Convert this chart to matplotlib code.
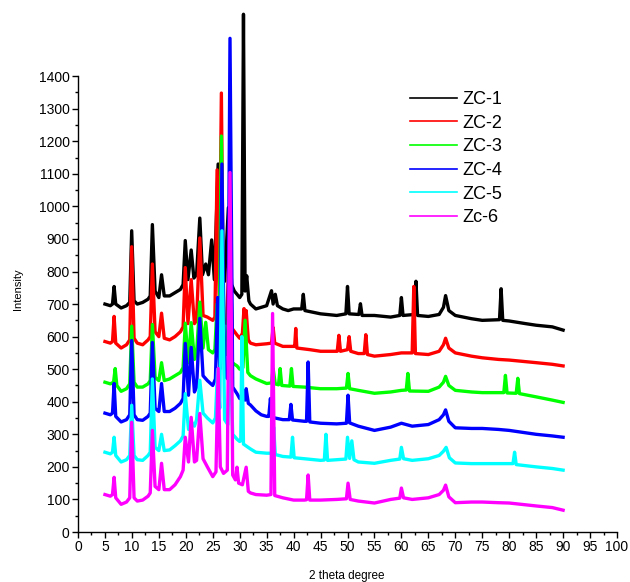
import matplotlib
matplotlib.use("Agg")
import matplotlib.pyplot as plt
from matplotlib.ticker import MultipleLocator

plt.rcParams['font.family'] = ['Liberation Sans', 'DejaVu Sans']

labels = ["ZC-1", "ZC-2", "ZC-3", "ZC-4", "ZC-5", "Zc-6"]
colors = ["#000000", "#ff0000", "#00ff00", "#0000ff", "#00ffff", "#ff00ff"]

zc1 = [(5,700),(6,695),(6.4,700),(6.7,754),(7.0,700),(8,688),(9,695),(9.6,705),(9.96,925),(10.4,710),
       (11,700),(12,705),(13,715),(13.4,725),(13.8,944),(14.3,740),(15,720),(15.5,790),(16,725),(17,725),
       (18,735),(19,745),(19.5,760),(19.9,895),(20.4,775),(21.0,866),(21.5,780),(22,790),(22.6,964),(23.1,790),
       (23.7,823),(24.2,790),(24.8,897),(25.3,775),(26.0,1130),(26.6,780),(27.2,770),(27.9,996),(28.5,760),(29,740),
       (30,720),(30.4,730),(30.7,1590),(31.0,740),(31.3,787),(31.7,710),(32,700),(33,685),(34,690),(35,695),
       (35.9,741),(36.2,700),(36.6,730),(37.0,695),(38,685),(39,680),(40,685),(41.5,685),(41.8,730),(42.1,680),
       (45,670),(48,665),(49.7,670),(50.0,754),(50.3,670),(52.1,668),(52.4,701),(52.7,665),(55,665),(58,660),
       (59.7,665),(60.0,720),(60.3,665),(62.4,668),(62.7,770),(63.0,665),(65,662),(67,668),(67.8,690),(68.2,726),
       (68.8,680),(70,665),(73,655),(75,650),(78.2,652),(78.5,747),(78.8,650),(80,648),(83,640),(85,635),
       (88,630),(90,620)]

zc2 = [(5,585),(6,580),(6.4,585),(6.7,662),(7.0,580),(8,565),(9,575),(9.6,590),(9.96,876),(10.4,595),
       (11,580),(12,575),(13,590),(13.4,600),(13.8,823),(14.3,615),(15,600),(15.5,672),(16,595),(17,590),
       (18,600),(19,615),(19.5,630),(19.9,812),(20.4,640),(21.0,775),(21.6,640),(22,650),(22.6,903),(23.2,665),
       (24,660),(25,650),(25.4,660),(25.8,1112),(26.2,700),(26.6,1348),(27.0,650),(27.6,640),(28.1,903),(28.6,625),
       (29.5,605),(30,595),(30.5,610),(30.8,686),(31.0,620),(31.2,680),(31.6,590),(32,580),(33,575),(35,578),
       (35.9,580),(36.2,628),(36.5,580),(38,570),(40,570),(40.2,570),(40.4,625),(40.6,565),(43,560),(45,555),
       (48.1,555),(48.4,604),(48.7,555),(50,560),(50.3,600),(50.6,555),(52,548),(53.1,548),(53.4,606),(53.7,545),
       (55,540),(58,545),(60,550),(62.0,550),(62.3,754),(62.6,548),(65,545),(67,555),(67.8,575),(68.2,595),
       (68.8,565),(70,550),(73,540),(75,535),(78,530),(80,528),(85,520),(88,515),(90,510)]

zc3 = [(5,460),(6,455),(6.6,460),(6.9,502),(7.2,450),(8,432),(9,440),(9.6,455),(9.96,632),(10.4,460),
       (11,445),(12,445),(13,455),(13.4,465),(13.8,637),(14.3,475),(15,465),(15.5,520),(16,465),(17,470),
       (18,480),(19,490),(19.5,505),(19.9,641),(20.5,520),(21.0,643),(21.6,530),(22,550),(22.6,706),(23.2,565),
       (23.7,644),(24.2,560),(25,550),(25.4,560),(25.8,700),(26.2,600),(26.6,1216),(27.1,560),(27.6,545),(28.1,750),
       (28.6,520),(29.5,510),(30,500),(30.6,505),(31.0,650),(31.5,490),(32,480),(33,470),(35,456),(35.9,458),
       (36.2,502),(36.6,455),(37.2,452),(37.5,502),(37.8,450),(39.3,448),(39.6,502),(39.9,447),(42,445),(45,440),
       (48,440),(49.8,442),(50.1,487),(50.4,440),(52,435),(55,426),(58,430),(60,435),(60.9,436),(61.2,487),
       (61.5,433),(65,432),(67,445),(67.8,460),(68.2,478),(68.8,450),(70,435),(73,430),(75,428),(79.0,428),
       (79.3,481),(79.6,427),(81.3,426),(81.6,472),(81.9,425),(85,415),(88,405),(90,398)]

zc4 = [(5,365),(6,360),(6.4,365),(6.7,456),(7.0,355),(8,338),(9,345),(9.6,360),(9.96,588),(10.4,360),
       (11,345),(12,343),(13,355),(13.4,365),(13.8,582),(14.3,380),(15,370),(15.5,456),(16,370),(17,370),
       (18,380),(19,395),(19.5,410),(19.9,579),(20.5,420),(21.0,567),(21.6,430),(22,445),(22.6,656),(23.2,480),
       (24,465),(25,450),(25.5,470),(25.9,720),(26.3,500),(26.7,1130),(27.2,480),(27.8,470),(28.2,1516),(28.7,445),
       (29.5,425),(30,410),(30.5,410),(30.8,429),(31.0,405),(31.2,440),(31.6,395),(32,390),(33,372),(34,360),
       (35,355),(35.4,355),(35.7,410),(36.0,352),(38,345),(39.2,345),(39.5,392),(39.8,344),(42,340),(42.4,340),
       (42.7,522),(43.0,338),(45,334),(48,332),(49.8,334),(50.1,420),(50.4,335),(52,325),(55,312),(58,322),
       (60,334),(62,325),(65,330),(67,345),(67.8,360),(68.2,375),(68.8,340),(70,320),(73,318),(75,318),
       (78,315),(80,312),(85,300),(88,295),(90,291)]

zc5 = [(5,245),(6,240),(6.4,245),(6.7,291),(7.0,235),(8,215),(9,222),(9.6,235),(9.96,389),(10.4,235),
       (11,222),(12,220),(13,235),(13.4,245),(13.8,470),(14.3,260),(15,250),(15.5,300),(16,250),(17,252),
       (18,265),(19,280),(19.5,295),(19.9,425),(20.5,315),(21.0,340),(21.6,325),(22,345),(22.6,466),(23.2,365),
       (24,350),(25,335),(25.5,350),(25.9,500),(26.3,380),(26.7,925),(27.2,345),(27.8,330),(28.2,600),(28.7,300),
       (29.5,285),(30,278),(30.2,280),(30.4,600),(30.7,270),(32,255),(33,245),(35,242),(36.0,242),(36.3,322),
       (36.6,238),(38,232),(39.5,230),(39.8,291),(40.1,228),(42,225),(45,220),(45.7,221),(46.0,300),(46.3,220),
       (48,222),(49.7,224),(50.0,291),(50.4,226),(50.8,280),(51.2,222),(52,215),(55,211),(58,220),(59.7,224),
       (60.0,260),(60.4,225),(62,220),(65,225),(67,235),(67.8,248),(68.3,260),(68.9,228),(70,212),(73,210),
       (75,210),(78,210),(80.7,210),(81.0,245),(81.3,207),(85,200),(88,195),(90,190)]

zc6 = [(5,115),(6,110),(6.4,115),(6.7,168),(7.0,105),(8,85),(9,92),(9.6,105),(9.96,337),(10.4,105),
       (11,95),(12,98),(13,110),(13.4,120),(13.8,312),(14.3,140),(15,130),(15.5,211),(16,130),(17,130),
       (18,145),(19,170),(19.5,190),(19.9,291),(20.5,215),(21.0,352),(21.6,215),(22,220),(22.6,364),(23.2,225),
       (24,200),(25,170),(25.6,185),(26.0,502),(26.4,200),(27.0,180),(27.7,190),(28.2,1104),(28.7,175),(29.2,160),
       (29.5,199),(29.8,150),(30.5,145),(31.2,199),(31.6,125),(32,120),(33,115),(35,113),(35.8,115),(36.1,671),
       (36.5,112),(38,105),(40,98),(42,98),(42.4,99),(42.7,175),(43.0,98),(45,98),(48,100),(49.8,102),
       (50.1,150),(50.5,100),(52,95),(55,89),(58,100),(59.7,104),(60.0,135),(60.4,105),(62,100),(65,105),
       (67,115),(67.8,128),(68.2,144),(68.8,108),(70,90),(73,92),(75,92),(78,90),(80,89),(85,80),
       (88,75),(90,67)]

series = [zc1, zc2, zc3, zc4, zc5, zc6]

fig = plt.figure(figsize=(6.3, 5.82), dpi=100)
ax = fig.add_axes([78/630, 1 - 532/582, (617 - 78)/630, (532 - 11)/582])

for data, lab, col in zip(series, labels, colors):
    xs = [p[0] for p in data]
    ys = [p[1] for p in data]
    ax.plot(xs, ys, color=col, lw=2.4, label=lab)

ax.set_xlim(0, 100)
ax.set_ylim(0, 1600)
ax.spines['top'].set_visible(False)
ax.spines['right'].set_visible(False)
ax.spines['left'].set_bounds(0, 1400)
for s in ('left', 'bottom'):
    ax.spines[s].set_linewidth(1.0)
ax.xaxis.set_major_locator(MultipleLocator(5))
ax.xaxis.set_minor_locator(MultipleLocator(2.5))
ax.set_yticks(range(0, 1401, 100))
ax.set_yticks(range(0, 1401, 50), minor=True)
ax.tick_params(which='major', direction='out', length=4, width=1.0, labelsize=10, pad=2)
ax.tick_params(which='minor', direction='out', length=2.5, width=1.0)

fig.text(18/630, 1 - 289/582, "Intensity", rotation=90, ha='center', va='center', fontsize=8)
fig.text(347/630, 1 - 576/582, "2 theta degree", ha='center', va='center', fontsize=8.5)

leg = ax.legend(loc='upper left', bbox_to_anchor=(410/630, 1 - 91/582), bbox_transform=fig.transFigure,
                frameon=False, fontsize=13, handlelength=2.6, handletextpad=0.3, labelspacing=0.37,
                borderpad=0, borderaxespad=0)
for line in leg.get_lines():
    line.set_linewidth(1.2)

fig.savefig("out.png", dpi=100)
